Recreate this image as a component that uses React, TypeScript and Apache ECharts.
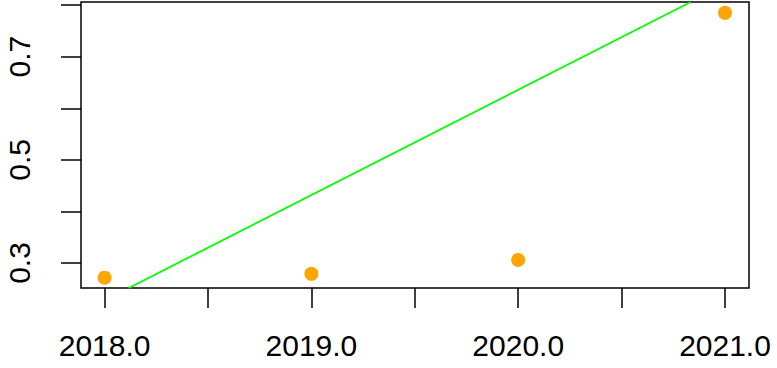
import React, { useEffect, useRef } from "react";
import * as echarts from "echarts";

const years = [2018, 2019, 2020, 2021];
const values = [0.2715, 0.279, 0.306, 0.785];
const xTicks = [2018, 2018.5, 2019, 2019.5, 2020, 2020.5, 2021];
const xLabels = [2018, 2019, 2020, 2021];
const yTicks = [0.3, 0.4, 0.5, 0.6, 0.7, 0.8];
const yLabels = [0.3, 0.5, 0.7];
const fitLine = [
  [2018.117, 0.2515],
  [2020.834, 0.806],
];

const FONT = "'Liberation Sans', Arial, sans-serif";

export default function App() {
  const ref = useRef<HTMLDivElement>(null);
  useEffect(() => {
    if (!ref.current) return;
    const chart = echarts.init(ref.current, undefined, { renderer: "svg" });
    chart.setOption({
      animation: false,
      backgroundColor: "#ffffff",
      grid: {
        left: 81,
        right: 28,
        top: 2,
        bottom: 80,
        show: true,
        borderColor: "#000000",
        borderWidth: 1.5,
        backgroundColor: "transparent",
      },
      xAxis: {
        type: "value",
        min: 2017.886,
        max: 2021.116,
        axisLine: { show: false },
        splitLine: { show: false },
        axisTick: {
          show: true,
          length: 20,
          customValues: xTicks,
          lineStyle: { color: "#000000", width: 1.5 },
        },
        axisLabel: {
          customValues: xLabels,
          formatter: (v: number) => v.toFixed(1),
          fontSize: 30,
          fontFamily: FONT,
          color: "#000000",
          margin: 42,
        },
      },
      yAxis: {
        type: "value",
        min: 0.2515,
        max: 0.806,
        axisLine: { show: false },
        splitLine: { show: false },
        axisTick: {
          show: true,
          length: 20,
          customValues: yTicks,
          lineStyle: { color: "#000000", width: 1.5 },
        },
        axisLabel: {
          customValues: yLabels,
          formatter: (v: number) => v.toFixed(1),
          rotate: 90,
          fontSize: 30,
          fontFamily: FONT,
          color: "#000000",
          margin: 47,
        },
      },
      series: [
        {
          type: "line",
          data: fitLine,
          showSymbol: false,
          symbol: "none",
          lineStyle: { color: "#00FF00", width: 1.8 },
          silent: true,
          z: 2,
        },
        {
          type: "scatter",
          data: years.map((y, i) => [y, values[i]]),
          symbol: "circle",
          symbolSize: 14,
          itemStyle: { color: "#FFA500", opacity: 1 },
          z: 3,
        },
      ],
    });
    return () => chart.dispose();
  }, []);
  return (
    <div
      ref={ref}
      style={{ position: "fixed", left: 0, top: 0, width: 777, height: 368 }}
    />
  );
}
